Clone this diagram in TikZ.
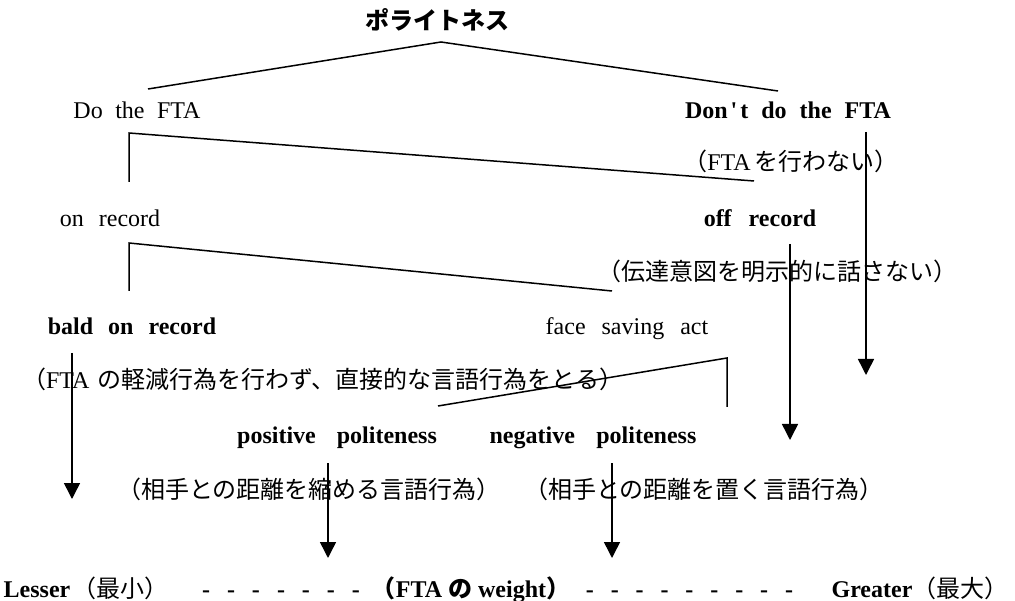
\documentclass[tikz,border=0pt]{standalone}
\usepackage{fontspec}
\setmainfont{Liberation Serif}
\newfontfamily\tms{Liberation Serif}
\newfontfamily\jp{Noto Sans CJK JP}
\usetikzlibrary{arrows.meta}
\newcommand\hsp[1]{\hspace{#1pt}}
\begin{document}
\begin{tikzpicture}[x=1pt,y=-1pt,
  lat/.style={font=\tms\fontsize{24}{28}\selectfont, inner sep=0pt, anchor=base},
  latb/.style={font=\tms\bfseries\fontsize{24}{28}\selectfont, inner sep=0pt, anchor=base},
  jtxt/.style={font=\jp\fontsize{24}{28}\selectfont, inner sep=0pt, anchor=base},
  jtxtb/.style={font=\jp\bfseries\fontsize{24}{28}\selectfont, inner sep=0pt, anchor=base},
  ln/.style={line width=1.5pt, line join=miter},
  arr/.style={line width=1.5pt, -{Triangle[width=16pt,length=16pt]}}]
\fill[white] (0,0) rectangle (1015,601);
\useasboundingbox (0,0) rectangle (1015,601);

% texts
\node[jtxtb] (title) at (437,30) {ポライトネス};
\node[lat] (do) at (137,119) {Do\hsp{12.5}the\hsp{12.5}FTA};
\node[latb] (dont) at (788,119) {Don\hsp{3}'\hsp{3}t\hsp{13}do\hsp{13}the\hsp{13}FTA};
\node[jtxt] (dontj) at (791,171) {（{\tms FTA}\hsp{4}を行わない）};
\node[lat] (on) at (110,227) {on\hsp{15}record};
\node[latb] (off) at (760,227) {off\hsp{17}record};
\node[jtxt] (offj) at (777,281) {（伝達意図を明示的に話さない）};
\node[latb] (bald) at (132,335) {bald\hsp{15}on\hsp{15}record};
\node[lat] (fsa) at (627,335) {face\hsp{16}saving\hsp{16}act};
\node[jtxt] (baldj) at (323,389) {（{\tms FTA}\hsp{8}の軽減行為を行わず、直接的な言語行為をとる）};
\node[latb] (pos) at (337,443) {positive\hsp{21}politeness};
\node[latb] (neg) at (593,443) {negative\hsp{21.5}politeness};
\node[jtxt] (posj) at (309,498) {（相手との距離を縮める言語行為）};
\node[jtxt] (negj) at (704,498) {（相手との距離を置く言語行為）};
\node[jtxt] (less) at (86,597) {{\tms\bfseries Lesser}\hsp{2}（最小）};
\node[latb] (dash1) at (281,597) {-\hsp{17}-\hsp{17}-\hsp{17}-\hsp{17}-\hsp{17}-\hsp{17}-};
\node[jtxtb] (weight) at (471,597) {（{\tms FTA}\hsp{6}の\hsp{6}{\tms weight}）};
\node[latb] (dash2) at (689.5,597) {-\hsp{16.9}-\hsp{16.9}-\hsp{16.9}-\hsp{16.9}-\hsp{16.9}-\hsp{16.9}-\hsp{16.9}-\hsp{16.9}-};
\node[jtxt] (great) at (920,597) {{\tms\bfseries Greater}（最大）};

% tree lines
\coordinate (tl) at (148,89);
\coordinate (apex) at (441,42);
\coordinate (tr) at (778,91);
\draw[ln] (tl) -- (apex) -- (tr);

\coordinate (b1a) at (129,182);
\coordinate (b1b) at (129,133);
\coordinate (b1c) at (754,181);
\draw[ln] (b1a) -- (b1b) -- (b1c);

\coordinate (b2a) at (129,291);
\coordinate (b2b) at (129,243);
\coordinate (b2c) at (612,291);
\draw[ln] (b2a) -- (b2b) -- (b2c);

\coordinate (b3a) at (438,406);
\coordinate (b3b) at (727,358);
\coordinate (b3c) at (727,407);
\draw[ln] (b3a) -- (b3b) -- (b3c);

% arrows
\coordinate (a1s) at (866,132);
\coordinate (a1e) at (866,375);
\draw[arr] (a1s) -- (a1e);
\coordinate (a2s) at (790,244);
\coordinate (a2e) at (790,440);
\draw[arr] (a2s) -- (a2e);
\coordinate (a3s) at (72,353);
\coordinate (a3e) at (72,499);
\draw[arr] (a3s) -- (a3e);
\coordinate (a4s) at (328,463);
\coordinate (a4e) at (328,558);
\draw[arr] (a4s) -- (a4e);
\coordinate (a5s) at (612,463);
\coordinate (a5e) at (612,558);
\draw[arr] (a5s) -- (a5e);
\end{tikzpicture}
\end{document}
